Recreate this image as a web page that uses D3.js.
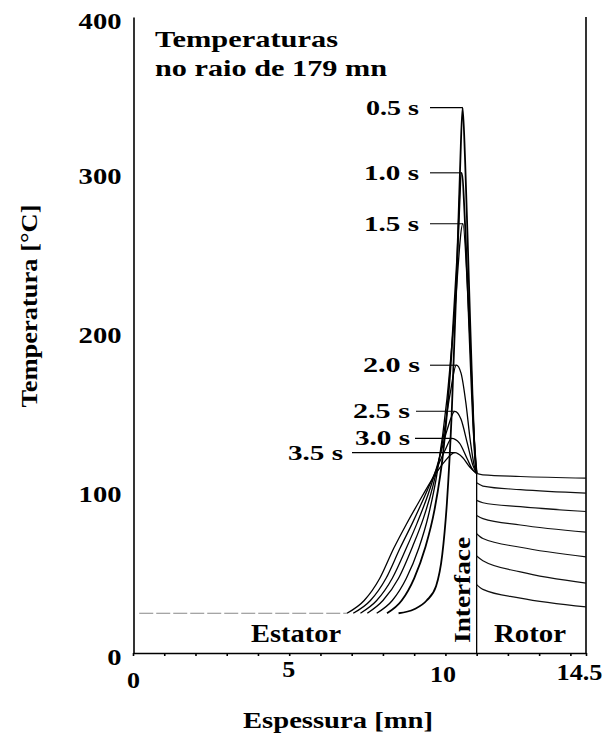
<!DOCTYPE html>
<html><head><meta charset="utf-8">
<script src="https://cdn.jsdelivr.net/npm/d3@7"></script>
<style>
body{margin:0;background:#fff}
svg{display:block}
text{font-family:"Liberation Serif","Times New Roman",serif;font-weight:bold;fill:#000}
</style>
</head><body>
<svg id="c" width="607" height="736"></svg>
<script>
// ---- data ----
const times = ["0.5 s","1.0 s","1.5 s","2.0 s","2.5 s","3.0 s","3.5 s"];
const initialTemp = 25;
const interfaceX = 11;
const interfaceTemp = 113;
// stator profiles [thickness mm, temperature °C]
const stator05 = [[8.5,25],[9.0,27.5],[9.4,33],[9.7,42],[9.9,62],[10.05,95],[10.2,150],[10.35,230],[10.47,305],[10.55,343],[10.63,310],[10.75,235],[10.87,160],[10.95,122],[11,113]];
const stator10 = [[8.13,25],[8.6,33],[9.0,47],[9.35,66],[9.65,90],[9.95,130],[10.2,190],[10.38,250],[10.52,302],[10.64,265],[10.78,195],[10.9,140],[11,113]];
const stator15 = [[7.8,25],[8.3,33],[8.75,47],[9.15,66],[9.45,86],[9.75,115],[10.05,160],[10.3,215],[10.56,270],[10.7,232],[10.83,178],[10.93,132],[11,113]];
const stator20 = [[7.5,25],[8.0,33],[8.5,47],[8.95,67],[9.3,85],[9.6,105],[9.9,132],[10.15,163],[10.35,181],[10.5,176],[10.65,158],[10.8,133],[10.92,118],[11,113]];
const stator25 = [[7.28,25],[7.8,33],[8.3,47],[8.75,66],[9.1,82],[9.45,100],[9.8,122],[10.05,140],[10.3,152],[10.5,147],[10.7,132],[10.88,118],[11,113]];
const stator30 = [[7.05,25],[7.6,33],[8.1,47],[8.55,66],[8.95,82],[9.3,97],[9.7,115],[10.0,128],[10.2,135],[10.45,132],[10.7,122],[10.88,115],[11,113]];
const stator35 = [[6.85,25],[7.4,33],[7.9,47],[8.35,66],[8.75,81],[9.15,95],[9.6,110],[10.0,121],[10.3,126],[10.55,123],[10.78,117],[11,113]];
// rotor profiles
const rotor05 = [[11,43],[11.2,40],[12.4,34.5],[14.5,29]];
const rotor10 = [[11,61],[11.2,58],[12.4,51],[14.5,44]];
const rotor15 = [[11,75],[11.2,72],[12.4,66.5],[14.5,60.5]];
const rotor20 = [[11,86.5],[11.2,84.5],[12.4,80.5],[14.5,76]];
const rotor25 = [[11,96],[11.2,94.5],[12.4,92],[14.5,89]];
const rotor30 = [[11,107],[11.2,105],[12.4,102.7],[14.5,100.6]];
const rotor35 = [[11,113],[11.2,112],[12.4,111],[14.5,110]];
const statorSeries = [stator05,stator10,stator15,stator20,stator25,stator30,stator35];
const rotorSeries = [rotor05,rotor10,rotor15,rotor20,rotor25,rotor30,rotor35];
const yTicks = [0,100,200,300,400];
const xTicks = [0,1,2,3,4,5,6,7,8,9,10,11,12,13,14,14.5];
const xTickLabels = [0,5,10,14.5];

// ---- layout ----
const svg = d3.select("#c");
const x = d3.scaleLinear().domain([0,14.5]).range([133,586]);
const y = d3.scaleLinear().domain([0,400]).range([653,17]);

function label(g, str, px, py, size, len, anchor){
  const t = g.append("text").attr("x",px).attr("y",py).attr("font-size",size)
    .attr("text-anchor",anchor||"start").text(str);
  if(len) t.attr("textLength",len).attr("lengthAdjust","spacingAndGlyphs");
  return t;
}

// axes
const ya = svg.append("g").attr("transform","translate(133.5,0)")
  .call(d3.axisLeft(y).tickValues(yTicks).tickSize(0).tickPadding(12).tickFormat(d3.format("d")));
ya.select(".domain").attr("stroke","#000").attr("stroke-width",1.6);
ya.selectAll(".tick text").attr("font-size",23).attr("font-family","Liberation Serif")
  .attr("font-weight","bold").attr("fill","#000")
  .attr("dy",d=> d===400? "0.48em" : d===0 ? "0.5em":"0.34em")
  .each(function(d){ const n=String(d).length; d3.select(this).attr("textLength",n*14.3).attr("lengthAdjust","spacingAndGlyphs"); });

const xa = svg.append("g").attr("transform","translate(0,653)")
  .call(d3.axisBottom(x).tickValues(xTicks).tickSizeInner(3).tickSizeOuter(0).tickPadding(4)
    .tickFormat(d=> xTickLabels.includes(d)? String(d):""));
xa.select(".domain").attr("stroke","#000").attr("stroke-width",1.6);
xa.selectAll(".tick line").attr("stroke","#000").attr("stroke-width",1.6);
const xdy = {0:"1.2em",5:"0.75em",10:"0.95em",14.5:"0.85em"};
const xdx = {0:0,5:-1,10:-3,14.5:-7};
xa.selectAll(".tick text").attr("font-size",23).attr("font-family","Liberation Serif")
  .attr("font-weight","bold").attr("fill","#000")
  .attr("dy",d=> xdy[d]||"0.71em").attr("dx",d=> xdx[d]||0)
  .each(function(d){ const s=String(d); if(xTickLabels.includes(d)) d3.select(this).attr("textLength",s.replace(".","").length*13+(s.includes(".")?7:0)).attr("lengthAdjust","spacingAndGlyphs"); });

// right border
svg.append("line").attr("x1",x(14.5)).attr("x2",x(14.5)).attr("y1",y(0)).attr("y2",y(400))
  .attr("stroke","#000").attr("stroke-width",1.6);

// interface line
svg.append("line").attr("x1",x(interfaceX)).attr("x2",x(interfaceX)).attr("y1",y(0)).attr("y2",y(interfaceTemp))
  .attr("stroke","#000").attr("stroke-width",1.3);

// initial temperature line
svg.append("line").attr("x1",x(0.2)).attr("x2",x(d3.min(statorSeries,s=>s[0][0])))
  .attr("y1",y(initialTemp)).attr("y2",y(initialTemp))
  .attr("stroke","#888").attr("stroke-width",1).attr("stroke-dasharray","14,3");

const line = d3.line().x(d=>x(d[0])).y(d=>y(d[1])).curve(d3.curveMonotoneX);
svg.append("g").selectAll("path").data(statorSeries).join("path")
  .attr("d",line).attr("fill","none").attr("stroke","#000")
  .attr("stroke-width",(d,i)=> i<2?1.8:1.3);
svg.append("g").selectAll("path").data(rotorSeries).join("path")
  .attr("d",line).attr("fill","none").attr("stroke","#111").attr("stroke-width",1.2);

// time labels with leader lines
const labelRight = [419,419,419,420,410,410,343];
const lineStart = [430,430,430,430,416,415,352];
const labelLen = [53,55,55,57,57,55,55];
const lg = svg.append("g");
statorSeries.forEach((s,i)=>{
  const pk = s[d3.maxIndex(s,d=>d[1])];
  lg.append("line").attr("x1",lineStart[i]).attr("x2",x(pk[0])).attr("y1",y(pk[1])).attr("y2",y(pk[1]))
    .attr("stroke","#000").attr("stroke-width",1.1);
  label(lg, times[i], labelRight[i], y(pk[1])+7, 21, labelLen[i], "end");
});

// texts
label(svg,"Temperaturas",155,47,24,183);
label(svg,"no raio de 179 mn",155,76,24,232);
label(svg,"Estator",251,642,25,90);
label(svg,"Rotor",494,642,25,72);
svg.append("text").attr("transform","translate(470,590) rotate(-90)").attr("text-anchor","middle")
  .attr("font-size",24).attr("textLength",106).attr("lengthAdjust","spacingAndGlyphs").text("Interface");
svg.append("text").attr("transform","translate(37,306) rotate(-90)").attr("text-anchor","middle")
  .attr("font-size",24).attr("textLength",203).attr("lengthAdjust","spacingAndGlyphs").text("Temperatura [°C]");
label(svg,"Espessura [mn]",338,728,24,190,"middle");
</script>
</body></html>
